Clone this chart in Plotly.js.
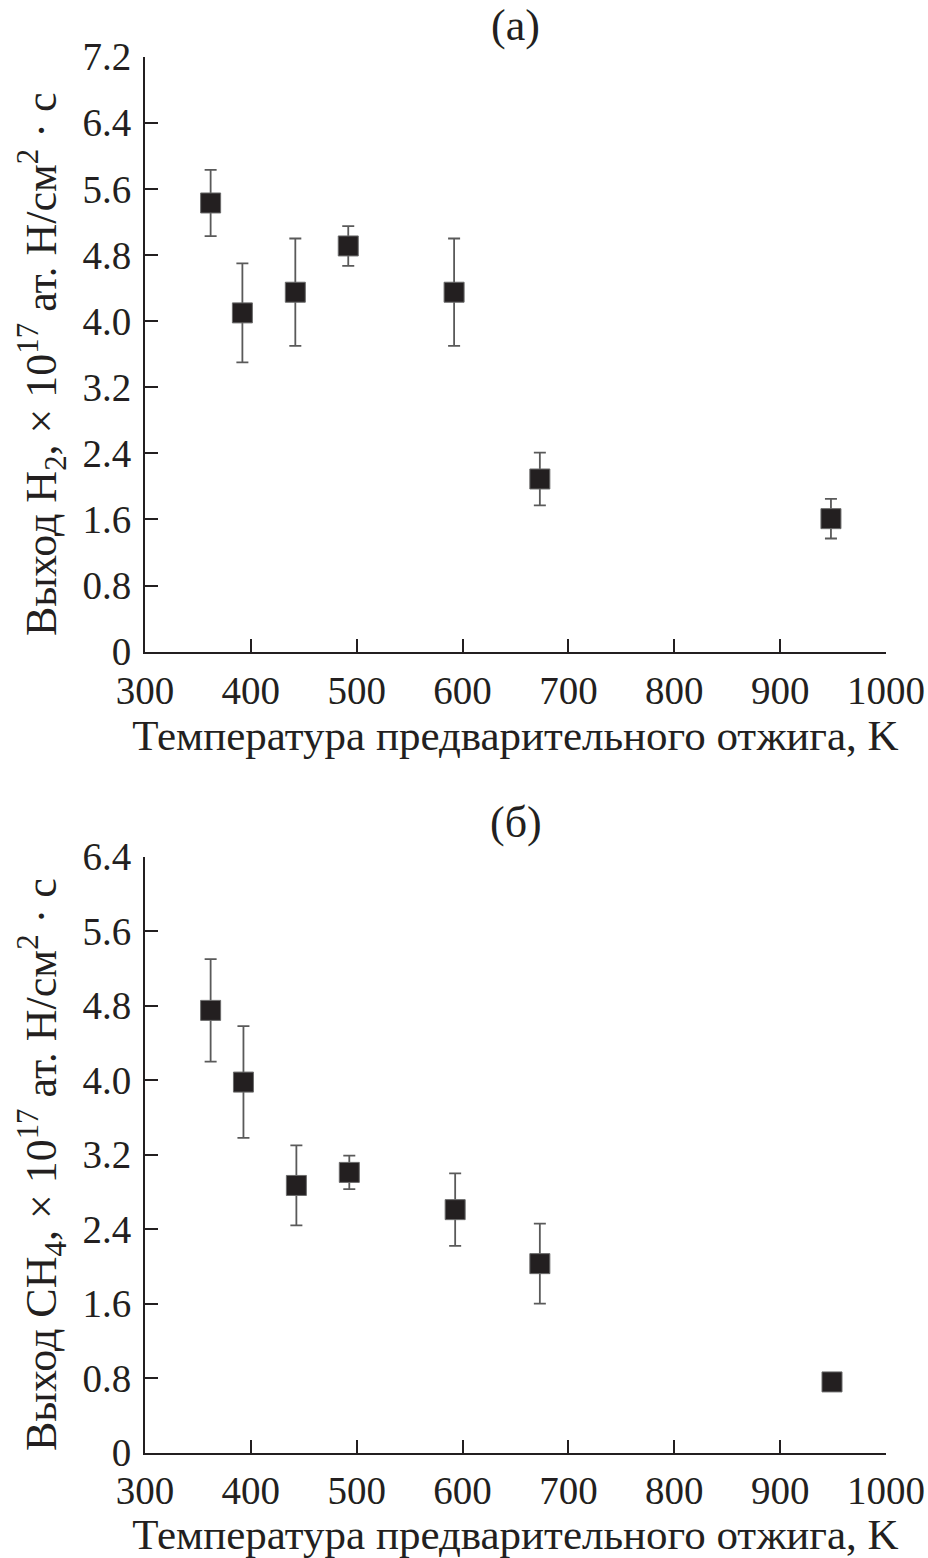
<!DOCTYPE html>
<html><head><meta charset="utf-8">
<script src="https://cdn.plot.ly/plotly-3.0.1.min.js"></script>
<style>body{margin:0;background:#fff}</style>
</head><body>
<div id="chart" style="width:928px;height:1558px"></div>
<script>
// Panel (a): H2 yield
const tempA = [362, 392, 442, 492, 592, 673, 948];
const yieldH2 = [5.43, 4.10, 4.35, 4.91, 4.35, 2.09, 1.61];
const errH2 = [0.40, 0.60, 0.65, 0.24, 0.65, 0.32, 0.24];
// Panel (б): CH4 yield
const tempB = [362, 393, 443, 493, 593, 673, 949];
const yieldCH4 = [4.75, 3.98, 2.87, 3.01, 2.61, 2.03, 0.76];
const errCH4 = [0.55, 0.60, 0.43, 0.18, 0.39, 0.43, 0];

const xTicks = [300, 400, 500, 600, 700, 800, 900, 1000];
const yTicksA = [0, 0.8, 1.6, 2.4, 3.2, 4.0, 4.8, 5.6, 6.4, 7.2];
const yTicksB = [0, 0.8, 1.6, 2.4, 3.2, 4.0, 4.8, 5.6, 6.4];
const fmt = v => v === 0 ? "0" : v.toFixed(1);

const FONT = "Liberation Serif, Times New Roman, serif";
const marker = {symbol: "square", size: 20, color: "#231f20", line: {color: "#6b6b6b", width: 1}};
const errStyle = arr => ({type: "data", array: arr, visible: true, color: "#5a5a5a", thickness: 1.8, width: 6});

const traces = [
  {x: tempA, y: yieldH2, error_y: errStyle(errH2), mode: "markers", type: "scatter", marker: marker, xaxis: "x", yaxis: "y", showlegend: false},
  {x: tempB, y: yieldCH4, error_y: errStyle(errCH4), mode: "markers", type: "scatter", marker: marker, xaxis: "x2", yaxis: "y2", showlegend: false}
];

const axisCommon = {
  showgrid: false, zeroline: false, showline: true, linecolor: "#231f20", linewidth: 2,
  ticks: "inside", ticklen: 13, tickwidth: 2, tickcolor: "#231f20",
  tickfont: {family: FONT, size: 39, color: "#231f20"}, mirror: false
};
const xTitle = "Температура предварительного отжига, K";
const yTitleA = "Выход H<sub>2</sub>, × 10<sup>17</sup> ат. H/см<sup>2</sup> · с";
const yTitleB = "Выход CH<sub>4</sub>, × 10<sup>17</sup> ат. H/см<sup>2</sup> · с";

const layout = {
  width: 928, height: 1558,
  margin: {l: 145, r: 42, t: 0, b: 0},
  paper_bgcolor: "#fff", plot_bgcolor: "#fff",
  font: {family: FONT, color: "#231f20"},
  xaxis: Object.assign({}, axisCommon, {domain: [0, 1], range: [300, 1000], tickvals: xTicks, anchor: "y", ticklabelstandoff: 3,
    title: {text: xTitle, font: {family: FONT, size: 43}, standoff: 5}}),
  yaxis: Object.assign({}, axisCommon, {domain: [0.5817, 0.9636], range: [0, 7.2], tickvals: yTicksA, ticktext: yTicksA.map(fmt), anchor: "x", ticklabelstandoff: 4}),
  xaxis2: Object.assign({}, axisCommon, {domain: [0, 1], range: [300, 1000], tickvals: xTicks, anchor: "y2", ticklabelstandoff: 3,
    title: {text: xTitle, font: {family: FONT, size: 43}, standoff: 5}}),
  yaxis2: Object.assign({}, axisCommon, {domain: [0.0676, 0.4501], range: [0, 6.4], tickvals: yTicksB, ticktext: yTicksB.map(fmt), anchor: "x2", ticklabelstandoff: 4}),
  annotations: [
    {text: "(а)", xref: "paper", yref: "paper", x: 0.5, y: 1 - 25/1558, xanchor: "center", yanchor: "middle", showarrow: false, font: {family: FONT, size: 44}},
    {text: "(б)", xref: "paper", yref: "paper", x: 0.5, y: 1 - 822/1558, xanchor: "center", yanchor: "middle", showarrow: false, font: {family: FONT, size: 44}},
    {text: yTitleA, xref: "paper", yref: "paper", x: -103/741, y: 1 - 365/1558, xanchor: "center", yanchor: "middle", textangle: -90, showarrow: false, font: {family: FONT, size: 44}},
    {text: yTitleB, xref: "paper", yref: "paper", x: -103/741, y: 1 - 1165/1558, xanchor: "center", yanchor: "middle", textangle: -90, showarrow: false, font: {family: FONT, size: 44}}
  ]
};

Plotly.newPlot("chart", traces, layout, {displayModeBar: false, staticPlot: true});
</script>
</body></html>
